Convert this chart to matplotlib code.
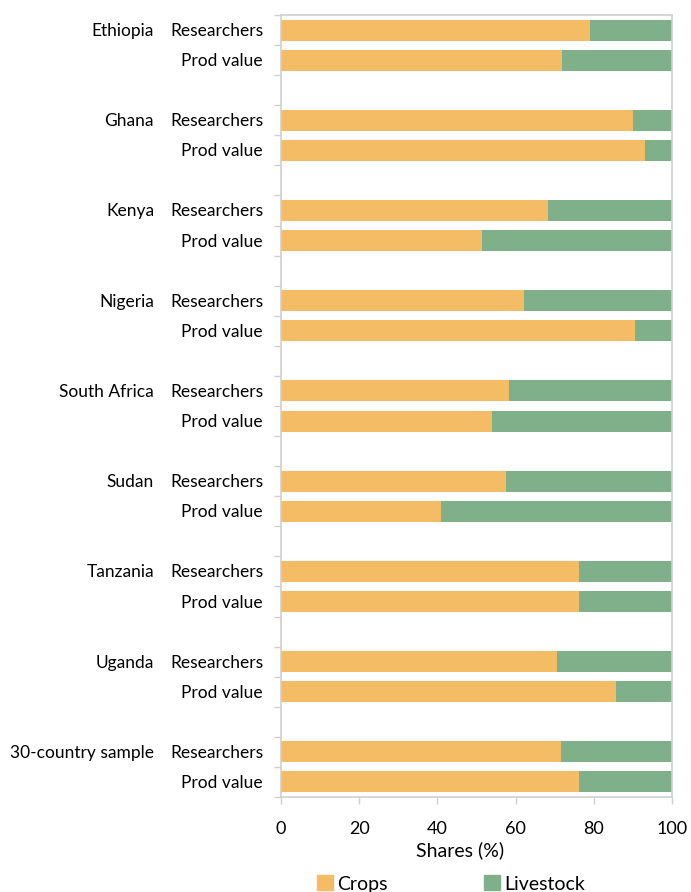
import matplotlib.pyplot as plt
from matplotlib.patches import Patch

# Crop vs livestock shares of researchers and production value
countries = ['Ethiopia', 'Ghana', 'Kenya', 'Nigeria', 'South Africa',
             'Sudan', 'Tanzania', 'Uganda', '30-country sample']
measures = ['Researchers', 'Prod value']
crops_researchers = [79.0, 89.9, 68.4, 62.1, 58.2, 57.6, 76.2, 70.6, 71.6]
crops_prodvalue = [71.9, 93.0, 51.5, 90.6, 54.0, 41.0, 76.2, 85.6, 76.2]

crop_color = '#F5BC66'
live_color = '#80B08A'
axis_gray = '#D0D0D0'

plt.rcParams['font.family'] = ['Lato', 'DejaVu Sans']
plt.rcParams['font.size'] = 12.5

fig = plt.figure(figsize=(6.91, 8.92), dpi=100)
ax = fig.add_axes([281 / 691, 1 - 797 / 892, 391 / 691, 782 / 892])

rows = []
for i, name in enumerate(countries):
    for j, (m, v) in enumerate(zip(measures, [crops_researchers[i], crops_prodvalue[i]])):
        rows.append((i * 3 + j, name if j == 0 else '', m, v))

ys = [r[0] for r in rows]
crops = [r[3] for r in rows]
livestock = [100 - c for c in crops]

ax.barh(ys, crops, height=0.7, color=crop_color, linewidth=0)
ax.barh(ys, livestock, left=crops, height=0.7, color=live_color, linewidth=0)

ax.set_xlim(0, 100)
ax.set_ylim(len(countries) * 3 - 1.5, -0.5)
ax.set_xticks(range(0, 101, 20))
ax.set_yticks([k - 0.5 for k in range(len(countries) * 3)])
ax.set_yticklabels([])
ax.tick_params(axis='both', direction='out', length=5, color=axis_gray, width=1)
ax.tick_params(axis='x', labelsize=13, pad=12)
for s in ax.spines.values():
    s.set_color(axis_gray)
    s.set_linewidth(1.2)

for y, name, m, v in rows:
    ax.annotate(m, xy=(0, y), xycoords=('axes fraction', 'data'),
                xytext=(-18, -1), textcoords='offset pixels',
                ha='right', va='center')
    if name:
        ax.annotate(name, xy=(0, y), xycoords=('axes fraction', 'data'),
                    xytext=(-127, -1), textcoords='offset pixels',
                    ha='right', va='center')

ax.set_xlabel('Shares (%)', fontsize=14)
ax.xaxis.set_label_coords(0.458, -0.068, transform=ax.transAxes)
ax.xaxis.label.set_va('center')

handles = [Patch(color=crop_color, label='Crops'),
           Patch(color=live_color, label='Livestock')]
fig.legend(handles=handles, loc='center', bbox_to_anchor=(451 / 691, 1 - 884 / 892),
           ncol=2, frameon=False, fontsize=14, handlelength=0.8, handleheight=0.8,
           handletextpad=0.2, columnspacing=5.0)

fig.savefig('out.png', dpi=100)
